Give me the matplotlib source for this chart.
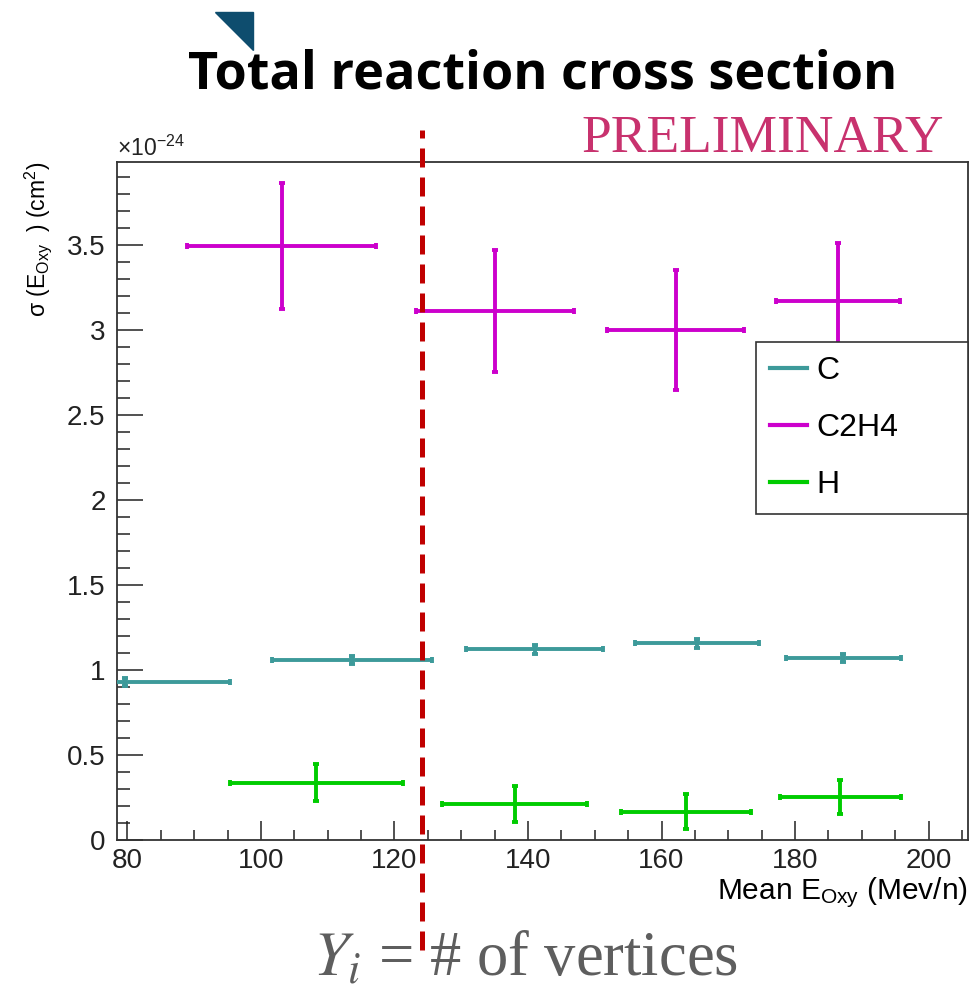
import matplotlib
matplotlib.use("Agg")
import matplotlib.pyplot as plt
from matplotlib.lines import Line2D
from matplotlib.patches import Polygon

# ---- data (cross section in units of 1e-24 cm^2) ----
targets = ["C", "C2H4", "H"]
colors = {"C": "#3d9a9a", "C2H4": "#cc00cc", "H": "#00cc00"}

c_energy = [79.6, 113.6, 141.0, 165.3, 187.2]
c_energy_err = [15.7, 12.0, 10.3, 9.3, 8.6]
c_sigma = [0.931, 1.059, 1.122, 1.157, 1.072]
c_sigma_err = [0.025, 0.025, 0.025, 0.025, 0.025]

c2h4_energy = [103.1, 135.1, 162.1, 186.4]
c2h4_energy_err = [14.1, 11.8, 10.2, 9.3]
c2h4_sigma = [3.494, 3.114, 3.000, 3.173]
c2h4_sigma_err = [0.37, 0.36, 0.353, 0.343]

h_energy = [108.3, 138.0, 163.7, 186.8]
h_energy_err = [13.0, 10.9, 9.7, 9.0]
h_sigma = [0.337, 0.210, 0.167, 0.251]
h_sigma_err = [0.11, 0.105, 0.105, 0.10]

cut_energy = 124.07

series = {
    "C": (c_energy, c_energy_err, c_sigma, c_sigma_err),
    "C2H4": (c2h4_energy, c2h4_energy_err, c2h4_sigma, c2h4_sigma_err),
    "H": (h_energy, h_energy_err, h_sigma, h_sigma_err),
}

plt.rcParams["font.family"] = ["Liberation Sans", "DejaVu Sans"]
plt.rcParams["mathtext.default"] = "regular"
plt.rcParams["mathtext.fontset"] = "stix"

W, H = 973, 994
fig = plt.figure(figsize=(W / 100, H / 100), dpi=100)
ax = fig.add_axes([116.7 / W, 1 - 840 / H, (968 - 116.7) / W, (840 - 162) / H])

for name in targets:
    x, xe, y, ye = series[name]
    ax.errorbar(x, y, xerr=xe, yerr=ye, fmt="none", ecolor=colors[name],
                elinewidth=2.8, capsize=2.2, capthick=2.8, zorder=3)

ax.set_xlim(78.4, 205.9)
ax.set_ylim(0, 3.99)
ax.set_xticks(range(80, 201, 20))
ax.set_xticks(range(80, 206, 5), minor=True)
ax.set_yticks([0, 0.5, 1, 1.5, 2, 2.5, 3, 3.5])
ax.set_yticklabels(["0", "0.5", "1", "1.5", "2", "2.5", "3", "3.5"])
ax.set_yticks([i / 10 for i in range(0, 40)], minor=True)

ax.tick_params(axis="both", which="both", direction="in", colors="#222222",
               labelsize=20, width=1.1, top=False, right=False)
ax.tick_params(axis="y", which="major", length=18.5, pad=8)
ax.tick_params(axis="y", which="minor", length=9.5)
ax.tick_params(axis="x", which="major", length=14, pad=6)
ax.tick_params(axis="x", which="minor", length=7)
for sp in ax.spines.values():
    sp.set_color("#333333")
    sp.set_linewidth(1.3)

ax.set_xlabel(r"Mean E$_{Oxy}$ (Mev/n)", fontsize=21.5, loc="right", labelpad=1)
ax.set_ylabel(r"$\sigma$ (E$_{Oxy}$  ) (cm$^{2}$)", fontsize=16.5, loc="top")
ax.yaxis.set_label_coords(-0.074, 1.0)
ax.text(0.0, 1.002, r"$\times$10$^{-24}$", transform=ax.transAxes,
        fontsize=16.5, color="#222222", ha="left", va="bottom")

# cut line
ax.axvline(cut_energy, ymin=-0.162, ymax=1.047, clip_on=False,
           color="#c00000", lw=3.6, linestyle=(0, (3.8, 2.0)), zorder=5)

handles = [Line2D([], [], color=colors[n], lw=3) for n in targets]
leg = ax.legend(handles, targets, loc="upper left",
                bbox_to_anchor=(0.751, 0.7345, 0.249, 0.0), mode="expand",
                borderaxespad=0, fontsize=23, handlelength=1.15,
                handletextpad=0.3, borderpad=0.45, labelspacing=0.84,
                fancybox=False, framealpha=1)
leg.get_frame().set_edgecolor("#333333")
leg.get_frame().set_linewidth(1.2)

# slide decorations
fig.text(543 / W, 1 - 75 / H, "Total reaction cross section", ha="center", va="center",
         fontsize=37.5, fontweight="bold", family=["Open Sans"])
fig.text(944 / W, 1 - 152 / H, "PRELIMINARY", ha="right", va="baseline",
         fontsize=38.5, color="#c8326e", family=["Liberation Serif"])
fig.text(313 / W, 1 - 975 / H, r"$\mathit{Y_i}$ = # of vertices", ha="left",
         va="baseline", fontsize=45, color="#5e5e5e", family=["Liberation Serif"])
fig.patches.append(Polygon([[215 / W, 1 - 12 / H], [253 / W, 1 - 12 / H],
                            [253 / W, 1 - 50 / H]], closed=True,
                           transform=fig.transFigure, color="#0e4d6e"))

fig.savefig("out.png", dpi=100)
